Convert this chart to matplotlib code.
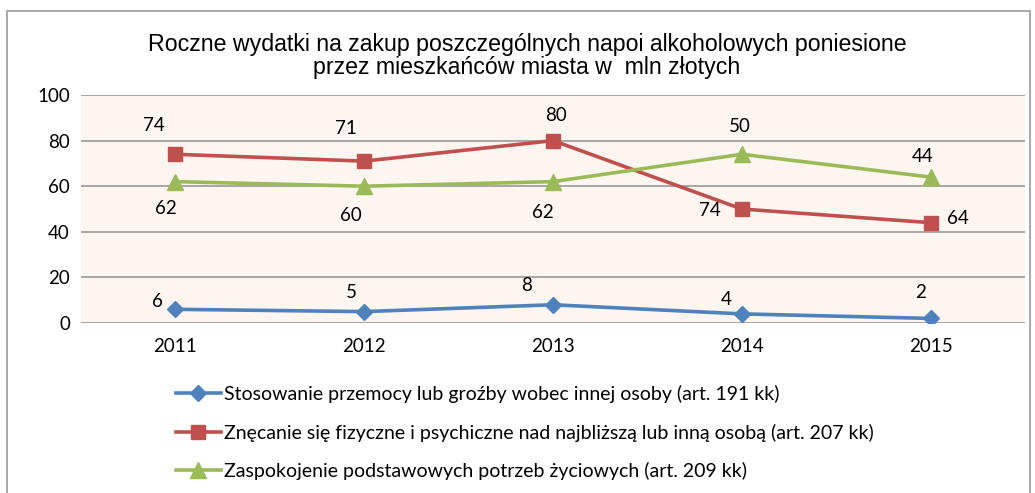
import matplotlib.pyplot as plt
from matplotlib.patches import Rectangle

years = [2011, 2012, 2013, 2014, 2015]
przemoc = [6, 5, 8, 4, 2]
znecanie = [74, 71, 80, 50, 44]
zaspokojenie = [62, 60, 62, 74, 64]

labels = [
    "Stosowanie przemocy lub groźby wobec innej osoby (art. 191 kk)",
    "Znęcanie się fizyczne i psychiczne nad najbliższą lub inną osobą (art. 207 kk)",
    "Zaspokojenie podstawowych potrzeb życiowych (art. 209 kk)",
]

# label offsets in pixels (dx, dy), taken from the reference layout
off_blue = [(-18, 8), (-13, 19), (-26, 19), (-16, 14), (-10, 26)]
off_red = [(-22, 29), (-18, 33), (3, 25), (-2, 83), (-8, 66)]
off_green = [(-10, -27), (-13, -29), (-10, -31), (-32, -56), (27, -41)]

plt.rcParams['font.family'] = ['Lato', 'DejaVu Sans']

fig = plt.figure(figsize=(10.35, 4.93), dpi=100)
fig.patches.append(Rectangle((7 / 1035, -0.1), 1 - 12 / 1035, 1.1 - 11 / 493,
                             transform=fig.transFigure, fill=False,
                             edgecolor='#9a9a9a', linewidth=1.2))
ax = fig.add_axes([81 / 1035, 1 - 323 / 493, 944 / 1035, 228 / 493])
ax.set_facecolor('#FDF5F0')

l1, = ax.plot(years, przemoc, color='#4F81BD', lw=2.6, marker='D', ms=8, zorder=3)
l2, = ax.plot(years, znecanie, color='#C0504D', lw=2.6, marker='s', ms=10, zorder=3)
l3, = ax.plot(years, zaspokojenie, color='#9BBB59', lw=2.6, marker='^', ms=11, zorder=3)

for vals, offs in [(przemoc, off_blue), (znecanie, off_red), (zaspokojenie, off_green)]:
    for x, v, (dx, dy) in zip(years, vals, offs):
        ax.annotate(str(v), (x, v), xytext=(dx * 0.72, dy * 0.72), textcoords='offset points',
                    ha='center', va='center', fontsize=13.5, color='black')

ax.set_xlim(2010.5, 2015.5)
ax.set_ylim(0, 100)
ax.set_yticks(range(0, 101, 20))
ax.set_xticks(years)
ax.grid(axis='y', color='#a0a0a0', lw=1.3)
ax.set_axisbelow(True)
for s in ax.spines.values():
    s.set_visible(False)
ax.tick_params(length=0, labelsize=13.5, pad=8)
ax.tick_params(axis='x', pad=11)

fig.text(527 / 1035, 1 - 56 / 493,
         "Roczne wydatki na zakup poszczególnych napoi alkoholowych poniesione\nprzez mieszkańców miasta w  mln złotych",
         ha='center', va='center', fontsize=16.7, family='Liberation Sans', linespacing=1.0)

fig.legend([l1, l2, l3], labels, loc='upper left', bbox_to_anchor=(176 / 1035, 1 - 385 / 493),
           frameon=False, fontsize=14, handlelength=2.3, handletextpad=0.15,
           labelspacing=1.05, borderaxespad=0, borderpad=0)

fig.savefig('out.png', dpi=100)
